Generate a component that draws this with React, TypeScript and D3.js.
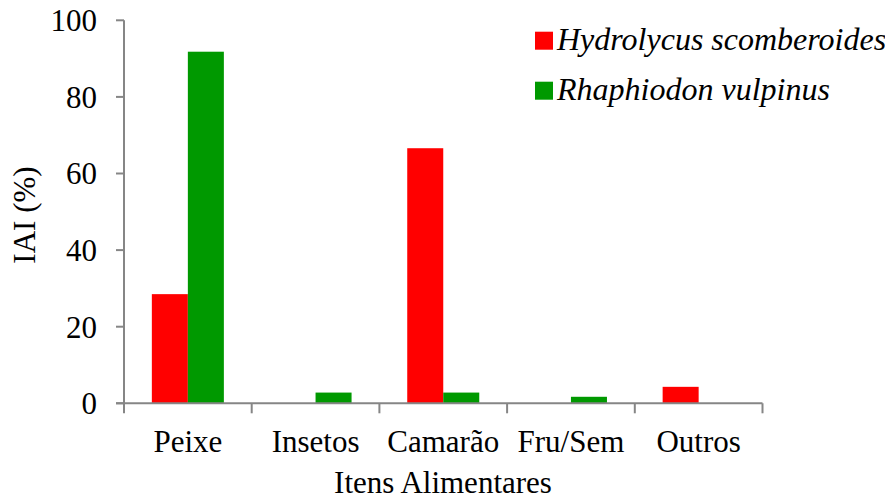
import React from "react";
import * as d3 from "d3";

const categories = ["Peixe", "Insetos", "Camarão", "Fru/Sem", "Outros"];
const seriesNames = ["Hydrolycus scomberoides", "Rhaphiodon vulpinus"];
const hydrolycus = [28.5, 0, 66.6, 0, 4.3];
const rhaphiodon = [91.8, 2.8, 2.8, 1.7, 0];
const seriesColors = ["#ff0000", "#009900"];
const yTicks = [0, 20, 40, 60, 80, 100];

const W = 885;
const H = 502;
const FONT = '"Liberation Serif", Tinos, "Times New Roman", Times, "Noto Serif", "DejaVu Serif", serif';
const AXIS = "#868686";

export default function App() {
  const x = d3.scaleBand<string>().domain(categories).range([124, 762.5]).paddingInner(0.436).paddingOuter(0.218);
  const inner = d3.scaleBand<number>().domain([0, 1]).range([0, x.bandwidth()]);
  const y = d3.scaleLinear().domain([0, 100]).range([403.3, 20.3]);
  const series = [hydrolycus, rhaphiodon];
  const step = x.step();
  const x0 = 124;
  const boundaries = d3.range(categories.length + 1).map((i) => x0 + i * step);
  const ts = { fontFamily: FONT, fontSize: 31 } as React.CSSProperties;

  return (
    <svg width={W} height={H} style={{ position: "absolute", left: 0, top: 0, background: "#fff", fontFamily: FONT }}>
      {/* bars */}
      {series.map((vals, si) =>
        vals.map((v, i) =>
          v > 0 ? (
            <rect
              key={`${si}-${i}`}
              x={(x(categories[i]) as number) + (inner(si) as number)}
              y={y(v)}
              width={inner.bandwidth()}
              height={y(0) - y(v)}
              fill={seriesColors[si]}
            />
          ) : null
        )
      )}
      {/* y axis */}
      <line x1={x0} x2={x0} y1={y(100)} y2={y(0)} stroke={AXIS} strokeWidth={2} />
      {yTicks.map((t) => (
        <g key={t}>
          <line x1={x0 - 8} x2={x0} y1={y(t)} y2={y(t)} stroke={AXIS} strokeWidth={2} />
          <text x={97} y={y(t)} dy="0.35em" textAnchor="end" style={ts} fill="#000">
            {t}
          </text>
        </g>
      ))}
      {/* x axis */}
      <line x1={x0 - 8} x2={boundaries[boundaries.length - 1]} y1={y(0)} y2={y(0)} stroke={AXIS} strokeWidth={2} />
      {boundaries.map((b, i) => (
        <line key={i} x1={b} x2={b} y1={y(0)} y2={y(0) + 10} stroke={AXIS} strokeWidth={2} />
      ))}
      {categories.map((c) => (
        <text key={c} x={(x(c) as number) + x.bandwidth() / 2} y={452} textAnchor="middle" style={ts} fill="#000">
          {c}
        </text>
      ))}
      <text x={443} y={493} textAnchor="middle" style={ts} fill="#000">
        Itens Alimentares
      </text>
      <text transform="translate(35,215) rotate(-90)" textAnchor="middle" style={ts} fill="#000">
        IAI (%)
      </text>
      {/* legend */}
      {seriesNames.map((n, i) => (
        <g key={n} transform={`translate(535,${31.7 + i * 50})`}>
          <rect width={18} height={18} fill={seriesColors[i]} />
          <text x={22} y={18} style={{ ...ts, fontStyle: "italic", fontSize: 32 }} fill="#000">
            {n}
          </text>
        </g>
      ))}
    </svg>
  );
}
